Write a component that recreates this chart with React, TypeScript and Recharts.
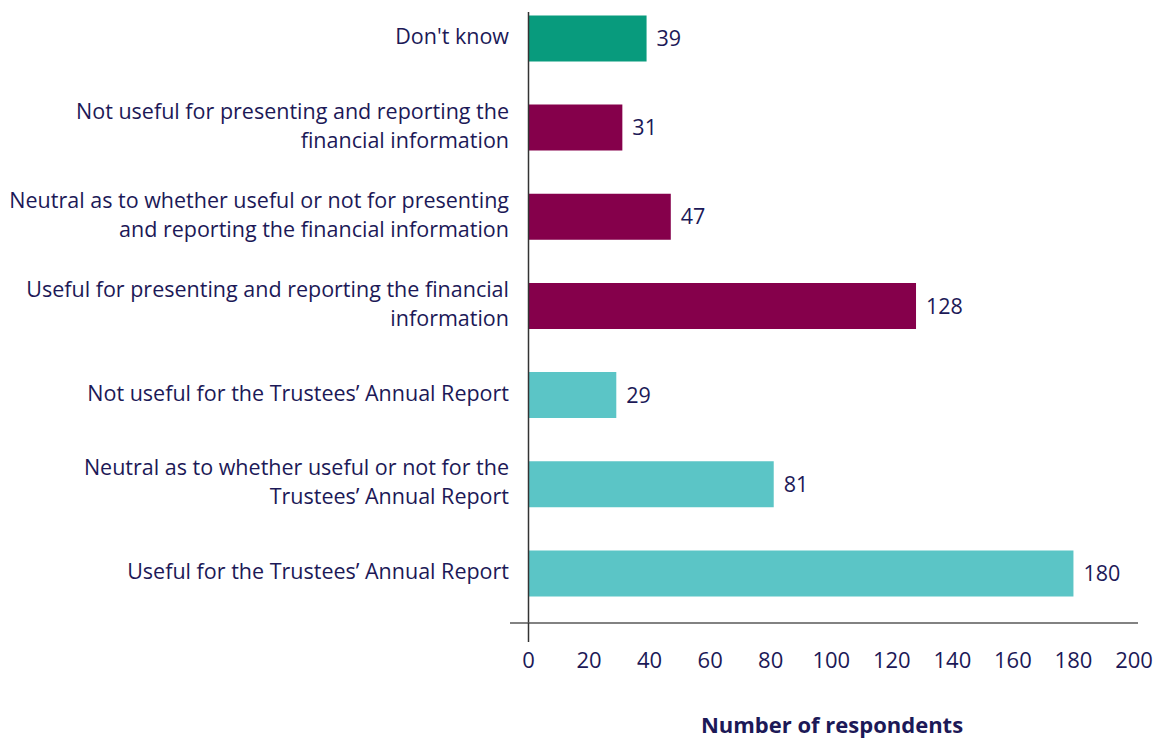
import React from 'react';
import { BarChart, Bar, XAxis, YAxis, Cell, LabelList, ReferenceLine } from 'recharts';

const categories = [
  "Don't know",
  'Not useful for presenting and reporting the\nfinancial information',
  'Neutral as to whether useful or not for presenting\nand reporting the financial information',
  'Useful for presenting and reporting the financial\ninformation',
  'Not useful for the Trustees’ Annual Report',
  'Neutral as to whether useful or not for the\nTrustees’ Annual Report',
  'Useful for the Trustees’ Annual Report',
];
const values = [39, 31, 47, 128, 29, 81, 180];
const groups = ['dontKnow', 'financial', 'financial', 'financial', 'report', 'report', 'report'];
const xTicks = [0, 20, 40, 60, 80, 100, 120, 140, 160, 180, 200];
const axisTitle = 'Number of respondents';

const groupColors: Record<string, string> = {
  dontKnow: '#089b7d',
  financial: '#85004b',
  report: '#5bc5c6',
};

const TEXT = '#1c1957';
const FONT = '"Open Sans", sans-serif';
const CAT_FS = 21.5;
const TICK_FS = 22;
const VAL_FS = 21.5;
const X_TICK_MARGIN = 20;

const data = categories.map((name, i) => ({ name, value: values[i], group: groups[i] }));

const XTick = (props: any) => {
  const { x, y, payload } = props;
  return (
    <g>
      {payload.value === 0 && (
        <line x1={x} x2={x} y1={y - X_TICK_MARGIN} y2={y - X_TICK_MARGIN + 19} stroke="#333" strokeWidth={1.5} />
      )}
      <text x={x} y={y} dy={25} textAnchor="middle" fill={TEXT} fontSize={TICK_FS} fontFamily={FONT}>
        {payload.value}
      </text>
    </g>
  );
};

const YTick = (props: any) => {
  const { x, y, payload } = props;
  const lines = String(payload.value).split('\n');
  const n = lines.length;
  return (
    <text x={x} y={y} textAnchor="end" fill={TEXT} fontSize={CAT_FS} fontFamily={FONT}>
      {lines.map((l, i) => (
        <tspan key={i} x={x} y={y + (i - (n - 1) / 2) * 29} dy="0.28em">
          {l}
        </tspan>
      ))}
    </text>
  );
};

export default function App() {
  return (
    <div style={{ position: 'absolute', left: 0, top: 0, width: 1160, height: 740, background: '#fff' }}>
      <BarChart
        width={1160}
        height={740}
        data={data}
        layout="vertical"
        margin={{ top: 12, right: 22, bottom: 0, left: 0 }}
        barSize={46}
      >
        <XAxis
          type="number"
          domain={[0, 200]}
          ticks={xTicks}
          interval={0}
          padding={{ left: 18.5, right: 4 }}
          height={117}
          axisLine={{ stroke: '#595959', strokeWidth: 1.5 }}
          tickLine={false}
          tickSize={0}
          tickMargin={X_TICK_MARGIN}
          tick={<XTick />}
          label={{
            value: axisTitle,
            position: 'insideBottom',
            offset: 7,
            dx: 8,
            fill: TEXT,
            fontSize: 22,
            fontWeight: 700,
            fontFamily: FONT,
          }}
        />
        <YAxis
          type="category"
          dataKey="name"
          width={510}
          padding={{ top: -18.6, bottom: 5.4 }}
          axisLine={false}
          tickLine={false}
          tickSize={0}
          tickMargin={1}
          interval={0}
          tick={<YTick />}
        />
        <ReferenceLine x={0} stroke="#333" strokeWidth={1.5} />
        <Bar dataKey="value" isAnimationActive={false}>
          {data.map((d, i) => (
            <Cell key={i} fill={groupColors[d.group]} />
          ))}
          <LabelList dataKey="value" position="right" offset={10} fill={TEXT} fontSize={VAL_FS} fontFamily={FONT} />
        </Bar>
      </BarChart>
    </div>
  );
}
